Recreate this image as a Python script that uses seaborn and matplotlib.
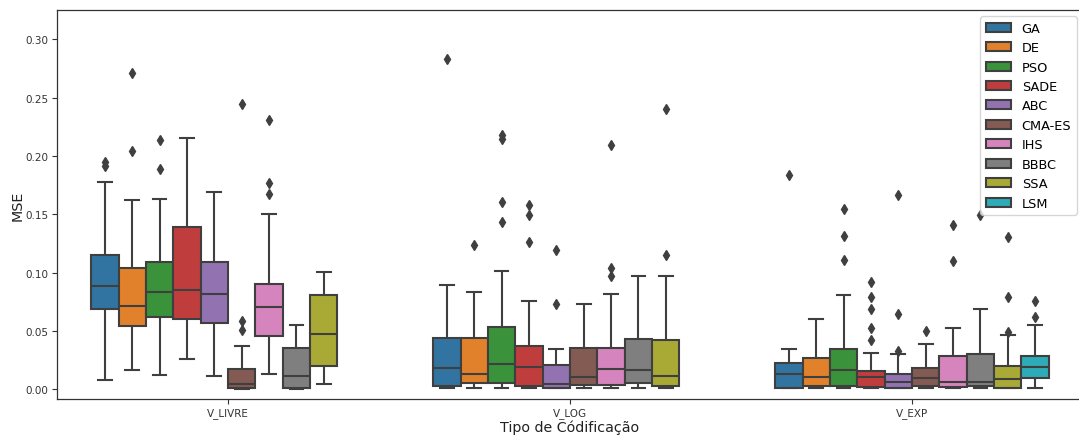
import matplotlib
matplotlib.use("Agg")
import matplotlib.pyplot as plt
import pandas as pd
import seaborn as sns

ALGORITHMS = ["GA", "DE", "PSO", "SADE", "ABC", "CMA-ES", "IHS", "BBBC", "SSA", "LSM"]
CODINGS = ["V_LIVRE", "V_LOG", "V_EXP"]

# Box summaries per coding: lower whisker, Q1, median, Q3, upper whisker, outliers.
# None marks an algorithm that was not run with that coding.
livre_low = [0.0077, 0.0166, 0.0123, 0.0257, 0.0117, 0.0003, 0.0132, 0.0006, 0.0043, None]
livre_q1 = [0.0689, 0.0546, 0.0618, 0.0603, 0.0572, 0.0010, 0.0455, 0.0014, 0.0200, None]
livre_med = [0.0889, 0.0718, 0.0838, 0.0855, 0.0815, 0.0046, 0.0709, 0.0114, 0.0475, None]
livre_q3 = [0.1147, 0.1038, 0.1087, 0.1390, 0.1087, 0.0172, 0.0906, 0.0352, 0.0806, None]
livre_high = [0.1776, 0.1624, 0.1627, 0.2150, 0.1687, 0.0375, 0.1500, 0.0555, 0.1007, None]
livre_out = [[0.1913, 0.1947], [0.2045, 0.2711], [0.1890, 0.2133], [], [],
             [0.0512, 0.0586, 0.2448], [0.1673, 0.1764, 0.2308], [], [], None]

log_low = [0.0009, 0.0009, 0.0009, 0.0009, 0.0009, 0.0009, 0.0009, 0.0009, 0.0009, None]
log_q1 = [0.0031, 0.0054, 0.0054, 0.0026, 0.0014, 0.0037, 0.0037, 0.0051, 0.0026, None]
log_med = [0.0183, 0.0132, 0.0214, 0.0189, 0.0043, 0.0109, 0.0177, 0.0169, 0.0114, None]
log_q3 = [0.0437, 0.0440, 0.0535, 0.0375, 0.0209, 0.0355, 0.0352, 0.0429, 0.0423, None]
log_high = [0.0895, 0.0838, 0.1010, 0.0758, 0.0349, 0.0735, 0.0815, 0.0967, 0.0972, None]
log_out = [[0.2831], [0.1238], [0.1433, 0.1607, 0.2142, 0.2176], [0.1258, 0.1490, 0.1581],
           [0.0732, 0.1195], [], [0.0975, 0.1038, 0.2096], [], [0.1155, 0.2399], None]

exp_low = [0.0008, 0.0009, 0.0009, 0.0009, 0.0009, 0.0009, 0.0009, 0.0009, 0.0009, 0.0009]
exp_q1 = [0.0009, 0.0029, 0.0031, 0.0020, 0.0014, 0.0031, 0.0023, 0.0031, 0.0015, 0.0094]
exp_med = [0.0129, 0.0106, 0.0163, 0.0106, 0.0060, 0.0097, 0.0060, 0.0066, 0.0086, 0.0194]
exp_q3 = [0.0229, 0.0269, 0.0345, 0.0160, 0.0132, 0.0180, 0.0286, 0.0300, 0.0197, 0.0289]
exp_high = [0.0349, 0.0606, 0.0810, 0.0315, 0.0305, 0.0392, 0.0526, 0.0690, 0.0465, 0.0549]
exp_out = [[0.1833], [], [0.1110, 0.1313, 0.1544], [0.0423, 0.0526, 0.0692, 0.0795, 0.0921],
           [0.0326, 0.0643, 0.1661], [0.0500], [0.1098, 0.1410], [0.1490],
           [0.0495, 0.0795, 0.1307], [0.0618, 0.0755]]

SUMMARIES = {
    "V_LIVRE": (livre_low, livre_q1, livre_med, livre_q3, livre_high, livre_out),
    "V_LOG": (log_low, log_q1, log_med, log_q3, log_high, log_out),
    "V_EXP": (exp_low, exp_q1, exp_med, exp_q3, exp_high, exp_out),
}

# Expand every summary into observations whose quartiles, whisker ends and
# outliers reproduce it under the usual 1.5*IQR rule.
rows = []
for coding in CODINGS:
    low, q1, med, q3, high, out = SUMMARIES[coding]
    for i, alg in enumerate(ALGORITHMS):
        if q1[i] is None:
            continue
        values = [low[i]] + [q1[i]] * 10 + [med[i]] * 10 + [q3[i]] * 10 + [high[i]] + out[i]
        rows += [{"coding": coding, "alg": alg, "MSE": v} for v in values]
df = pd.DataFrame(rows)

plt.rcParams["font.family"] = ["DejaVu Sans"]
fig = plt.figure(figsize=(10.79, 4.39), dpi=100)
ax = fig.add_axes([57 / 1079, 39 / 439, 1026 / 1079, 389 / 439])

line_gray = "#3f3f3f"
sns.boxplot(
    data=df, x="coding", y="MSE", hue="alg",
    order=CODINGS, hue_order=ALGORITHMS, palette="tab10",
    saturation=0.75, width=0.8, linewidth=1.5, linecolor=line_gray,
    fliersize=5.5,
    flierprops={"marker": "d", "markerfacecolor": line_gray, "markeredgecolor": line_gray},
    ax=ax,
)

ax.set_ylim(-0.0083, 0.325)
ax.set_xlim(-0.5, 2.5)
ax.set_yticks([0.0, 0.05, 0.10, 0.15, 0.20, 0.25, 0.30])
ax.set_yticklabels(["0.00", "0.05", "0.10", "0.15", "0.20", "0.25", "0.30"])
ax.tick_params(axis="both", labelsize=7.5, colors="#333333", length=3.5, width=0.8, pad=2.5)
for s in ax.spines.values():
    s.set_color("#333333")
    s.set_linewidth(0.9)

ax.set_xlabel("Tipo de Códificação", fontsize=10.3, color="#222222", labelpad=1)
ax.set_ylabel("MSE", fontsize=10.3, color="#222222", labelpad=0.5)

ax.legend(loc="upper right", fontsize=9.3, title=None)

fig.savefig("out.png", dpi=100)
